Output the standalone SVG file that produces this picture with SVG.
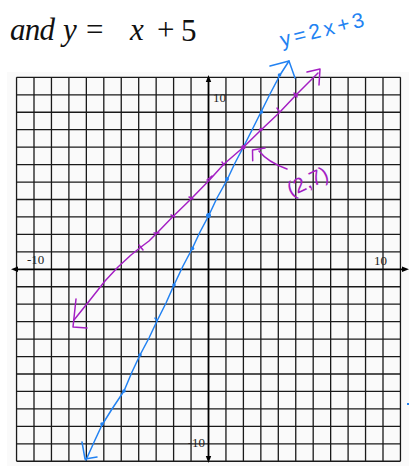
<svg xmlns="http://www.w3.org/2000/svg" width="409" height="466" viewBox="0 0 409 466">
<defs>
<style>
.grid{fill:none;stroke:#1a1a1a;stroke-width:1.3}
.axis{fill:none;stroke:#000;stroke-width:1.8}
.ah{fill:#000}
.num{font-family:"Liberation Serif",serif;font-size:13px;fill:#222}
.math{font-family:"Liberation Serif","DejaVu Serif",serif;font-size:31px;fill:#111}
.it{font-style:italic}
.blue{fill:none;stroke:#2282f2;stroke-width:1.5;stroke-linecap:round;stroke-linejoin:round}
.mag{fill:none;stroke:#a41fc4;stroke-width:1.5;stroke-linecap:round;stroke-linejoin:round}
.bdot{fill:#2282f2}
.mdot{fill:#a41fc4}
.hand{font-family:"Liberation Sans",sans-serif;font-size:21px}
</style>
</defs>
<rect x="0" y="0" width="409" height="466" fill="#fff"/>
<rect x="7" y="72" width="402" height="394" fill="#fafafa"/>

<g id="title">
<text class="math it" x="10" y="40" textLength="45" lengthAdjust="spacing">and</text>
<text class="math it" x="63" y="40">y</text>
<text class="math" x="86" y="40">=</text>
<text class="math it" x="130" y="40">x</text>
<text class="math" x="157" y="40">+</text>
<text class="math" x="181" y="41">5</text>
</g>

<g id="grid">
<path class="grid" d="M16.55,77.35V461.25M34,77.35V461.25M51.45,77.35V461.25M68.9,77.35V461.25M86.35,77.35V461.25M103.8,77.35V461.25M121.25,77.35V461.25M138.7,77.35V461.25M156.15,77.35V461.25M173.6,77.35V461.25M191.05,77.35V461.25M225.95,77.35V461.25M243.4,77.35V461.25M260.85,77.35V461.25M278.3,77.35V461.25M295.75,77.35V461.25M313.2,77.35V461.25M330.65,77.35V461.25M348.1,77.35V461.25M365.55,77.35V461.25M383,77.35V461.25M400.45,77.35V461.25"/>
<path class="grid" d="M16.55,77.35H400.45M16.55,94.8H400.45M16.55,112.25H400.45M16.55,129.7H400.45M16.55,147.15H400.45M16.55,164.6H400.45M16.55,182.05H400.45M16.55,199.5H400.45M16.55,216.95H400.45M16.55,234.4H400.45M16.55,251.85H400.45M16.55,286.75H400.45M16.55,304.2H400.45M16.55,321.65H400.45M16.55,339.1H400.45M16.55,356.55H400.45M16.55,374H400.45M16.55,391.45H400.45M16.55,408.9H400.45M16.55,426.35H400.45M16.55,443.8H400.45M16.55,461.25H400.45"/>
</g>

<g id="axes">
<path class="axis" d="M208.5,80V458M15,269.3H405"/>
<path class="ah" d="M208.5,75L205.8,82H211.2Z"/>
<path class="ah" d="M208.5,463L205.8,456H211.2Z"/>
<path class="ah" d="M11,269.3L18,266.6V272Z"/>
<path class="ah" d="M409,269.3L402,266.6V272Z"/>
<text class="num" x="213" y="102">10</text>
<text class="num" x="27" y="264">-10</text>
<text class="num" x="374" y="265">10</text>
<text class="num" x="205" y="447" text-anchor="end">-10</text>
</g>

<g id="line-blue">
<path class="blue" d="M86,460L95,440L102,425L112,409L124,391L132,372L140,355L149,338L157,321L166,303L174,285L183,266L192,249L200,232L208.5,216L217,198L227,180L235,163L243.4,147L252,130L261,112L270,94L280,75L289,61"/>
<polyline class="blue" points="270,66 289,61 295,78"/>
<polyline class="blue" points="82,442 85,459 97,457"/>
<circle class="bdot" cx="102" cy="424" r="1.8"/>
<circle class="bdot" cx="124" cy="391" r="1.8"/>
<circle class="bdot" cx="140" cy="355" r="1.8"/>
<path class="blue" d="M155,318L157,321"/>
<circle class="bdot" cx="174" cy="285" r="1.8"/>
<circle class="bdot" cx="192.5" cy="248.5" r="1.8"/>
<circle class="bdot" cx="208.5" cy="215.5" r="2.5"/>
<circle class="bdot" cx="227" cy="179" r="2"/>
<circle class="bdot" cx="261.5" cy="112" r="1.8"/>
<circle class="bdot" cx="279.5" cy="75" r="1.8"/>
<text class="hand" fill="#2282f2" transform="translate(282,47) rotate(-14)" textLength="86" lengthAdjust="spacing">y=2x+3</text>
<rect x="407" y="403" width="2" height="2" fill="#2282f2"/>
</g>

<g id="line-magenta">
<path class="mag" d="M74,320L90,300L105,281L118,267L131,255L141,247L149,241L157,233L173,216.5L191,199L209,180.5L224,164L243.4,147.2L261,130L279,113L296,95L318,73"/>
<polyline class="mag" points="307,72 320,69 319,85"/>
<polyline class="mag" points="76,299 73,327 87,328"/>
<path class="mag" d="M139,245L143,250M154,233L159,233M171,215L175,217M189,197L193,199M207,180L212,176M222,162L224,165M277,108L279,111M294,93L297,97"/>
<circle class="mdot" cx="243.4" cy="147.2" r="2.2"/>
<circle class="mdot" cx="261" cy="129.5" r="1.8"/>
<circle class="mdot" cx="296" cy="95" r="1.8"/>
</g>

<g id="intersection-label">
<path class="mag" d="M287,169C276,165 266,160 259,151"/>
<polyline class="mag" points="252.7,160.7 252.5,150 265,148"/>
<text class="hand mdot" font-size="24" transform="translate(291,197) rotate(-25)">(2,7)</text>
</g>
</svg>
